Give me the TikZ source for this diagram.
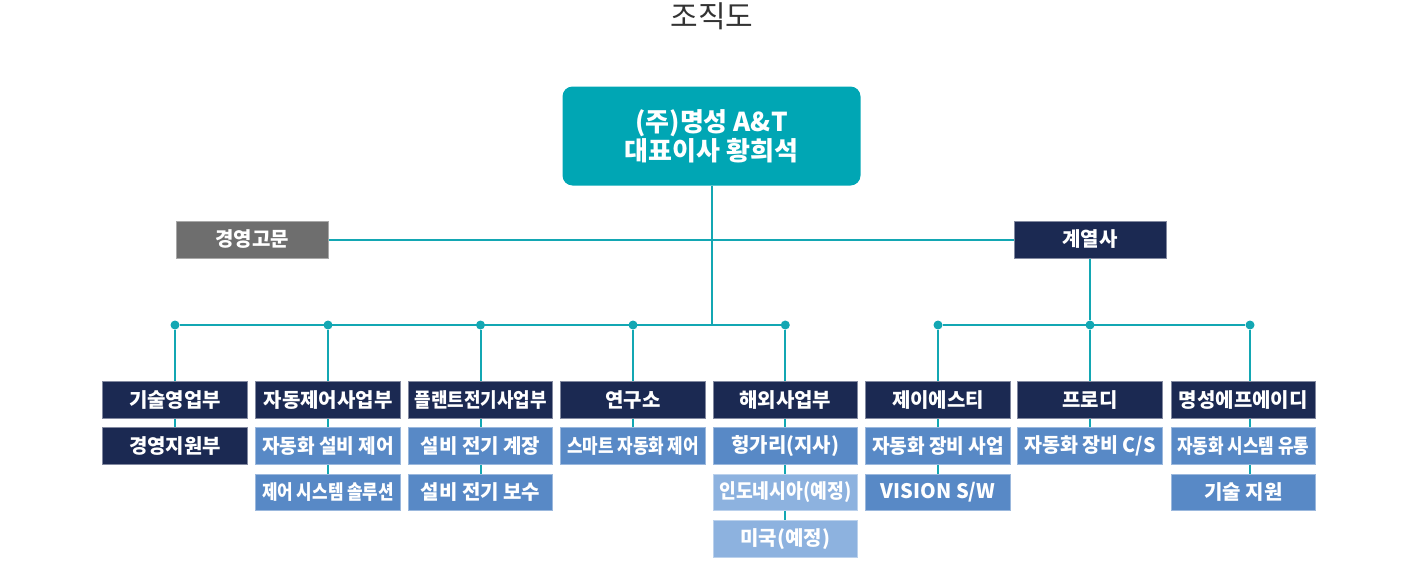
\documentclass[tikz,border=0pt]{standalone}
\usepackage{fontspec}
\setmainfont{Noto Sans CJK KR}
\usetikzlibrary{positioning}
\definecolor{ceoteal}{HTML}{00A6B4}
\definecolor{linecol}{HTML}{13A7B3}
\definecolor{navybox}{HTML}{1B2952}
\definecolor{bluebox}{HTML}{5889C6}
\definecolor{lightbox}{HTML}{8DB2DF}
\definecolor{graybox}{HTML}{6E6E6E}
\definecolor{titlegray}{HTML}{333333}
% squeeze long labels to the box width
\newsavebox\labelbox
\newcommand\fitlabel[1]{\sbox\labelbox{#1}%
  \ifdim\wd\labelbox>132pt\resizebox{132pt}{\height}{\usebox\labelbox}\else\usebox\labelbox\fi}
\tikzset{
  head/.style={fill=navybox, draw=navybox!55!white, line width=1pt, text=white,
    font=\bfseries\fontsize{20}{24}\selectfont, minimum width=144.5pt,
    minimum height=36.5pt, inner sep=0pt},
  sub/.style={head, fill=bluebox, draw=bluebox!60!white},
  soon/.style={head, fill=lightbox, draw=lightbox!60!white},
  dot/.style={circle, fill=linecol, inner sep=0pt, minimum size=9pt},
  link/.style={draw=linecol, line width=2pt}
}
\begin{document}
\begin{tikzpicture}[x=1pt, y=-1pt]
      \useasboundingbox (0,0) rectangle (1420,573);
      \node[text=titlegray, font=\fontsize{30}{34}\selectfont] (title) at (712,16) {조직도};
      \node[fill=ceoteal, rounded corners=10pt, minimum width=298pt, minimum height=99pt,
        text=white, align=center, font=\bfseries\fontsize{26}{29}\selectfont] (ceo) at (711.5,136)
        {(주)명성 A\&T\\대표이사 황희석};
      \node[head, fill=graybox, draw=graybox!60!white, minimum width=152pt, minimum height=37pt] (adv) at (252,239.5) {경영고문};
      \node[head, minimum width=152pt, minimum height=37pt] (aff) at (1090,239.5) {계열사};
      % dots on the bus
      \node[dot] (d1) at (175,325) {};
      \node[dot] (d2) at (328,325) {};
      \node[dot] (d3) at (480.5,325) {};
      \node[dot] (d4) at (633,325) {};
      \node[dot] (d5) at (785.3,325) {};
      \node[dot] (d6) at (938,325) {};
      \node[dot] (d7) at (1090,325) {};
      \node[dot] (d8) at (1250,325) {};
      % departments
      \node[head] (sales) at (175,400) {기술영업부};
      \node[head] (mgmt) at (175,446) {경영지원부};
      \node[head] (ctrl) at (328,400) {\fitlabel{자동제어사업부}};
      \node[sub] (ctrl1) at (328,446) {\fitlabel{자동화 설비 제어}};
      \node[sub] (ctrl2) at (328,492.5) {\fitlabel{제어 시스템 솔루션}};
      \node[head] (plant) at (480.5,400) {\fitlabel{플랜트전기사업부}};
      \node[sub] (plant1) at (480.5,446) {설비 전기 계장};
      \node[sub] (plant2) at (480.5,492.5) {설비 전기 보수};
      \node[head] (lab) at (633,400) {연구소};
      \node[sub] (lab1) at (633,446) {\fitlabel{스마트 자동화 제어}};
      \node[head] (intl) at (785.3,400) {해외사업부};
      \node[sub] (intl1) at (785.3,446) {헝가리(지사)};
      \node[soon] (intl2) at (785.3,492.5) {\fitlabel{인도네시아(예정)}};
      \node[soon] (intl3) at (785.3,539) {미국(예정)};
      \node[head] (jst) at (938,400) {제이에스티};
      \node[sub] (jst1) at (938,446) {\fitlabel{자동화 장비 사업}};
      \node[sub] (jst2) at (938,492.5) {VISION S/W};
      \node[head] (prodi) at (1090,400) {프로디};
      \node[sub] (prodi1) at (1090,446) {\fitlabel{자동화 장비 C/S}};
      \node[head] (mpad) at (1243.3,400) {\fitlabel{명성에프에이디}};
      \node[sub] (mpad1) at (1243.3,446) {\fitlabel{자동화 시스템 유통}};
      \node[sub] (mpad2) at (1243.3,492.5) {기술 지원};
      % connectors
      \draw[link] (adv) -- (aff);
      \draw[link] (ceo.south) -- (ceo.south |- d1);
      \draw[link] (d1) -- (d5);
      \draw[link] (aff) -- (d7);
      \draw[link] (d6) -- (d8);
      \draw[link] (d1) -- (sales);
      \draw[link] (d2) -- (ctrl);
      \draw[link] (d3) -- (plant);
      \draw[link] (d4) -- (lab);
      \draw[link] (d5) -- (intl);
      \draw[link] (d6) -- (jst);
      \draw[link] (d7) -- (prodi);
      \draw[link] (d8) -- (d8 |- mpad.north);
      \draw[link] (sales) -- (mgmt);
      \draw[link] (ctrl) -- (ctrl1);
      \draw[link] (ctrl1) -- (ctrl2);
      \draw[link] (plant) -- (plant1);
      \draw[link] (plant1) -- (plant2);
      \draw[link] (lab) -- (lab1);
      \draw[link] (intl) -- (intl1);
      \draw[link] (intl1) -- (intl2);
      \draw[link] (intl2) -- (intl3);
      \draw[link] (jst) -- (jst1);
      \draw[link] (jst1) -- (jst2);
      \draw[link] (prodi) -- (prodi1);
      \draw[link] (d8 |- mpad.south) -- (d8 |- mpad1.north);
      \draw[link] (d8 |- mpad1.south) -- (d8 |- mpad2.north);
    \end{tikzpicture}
\end{document}
